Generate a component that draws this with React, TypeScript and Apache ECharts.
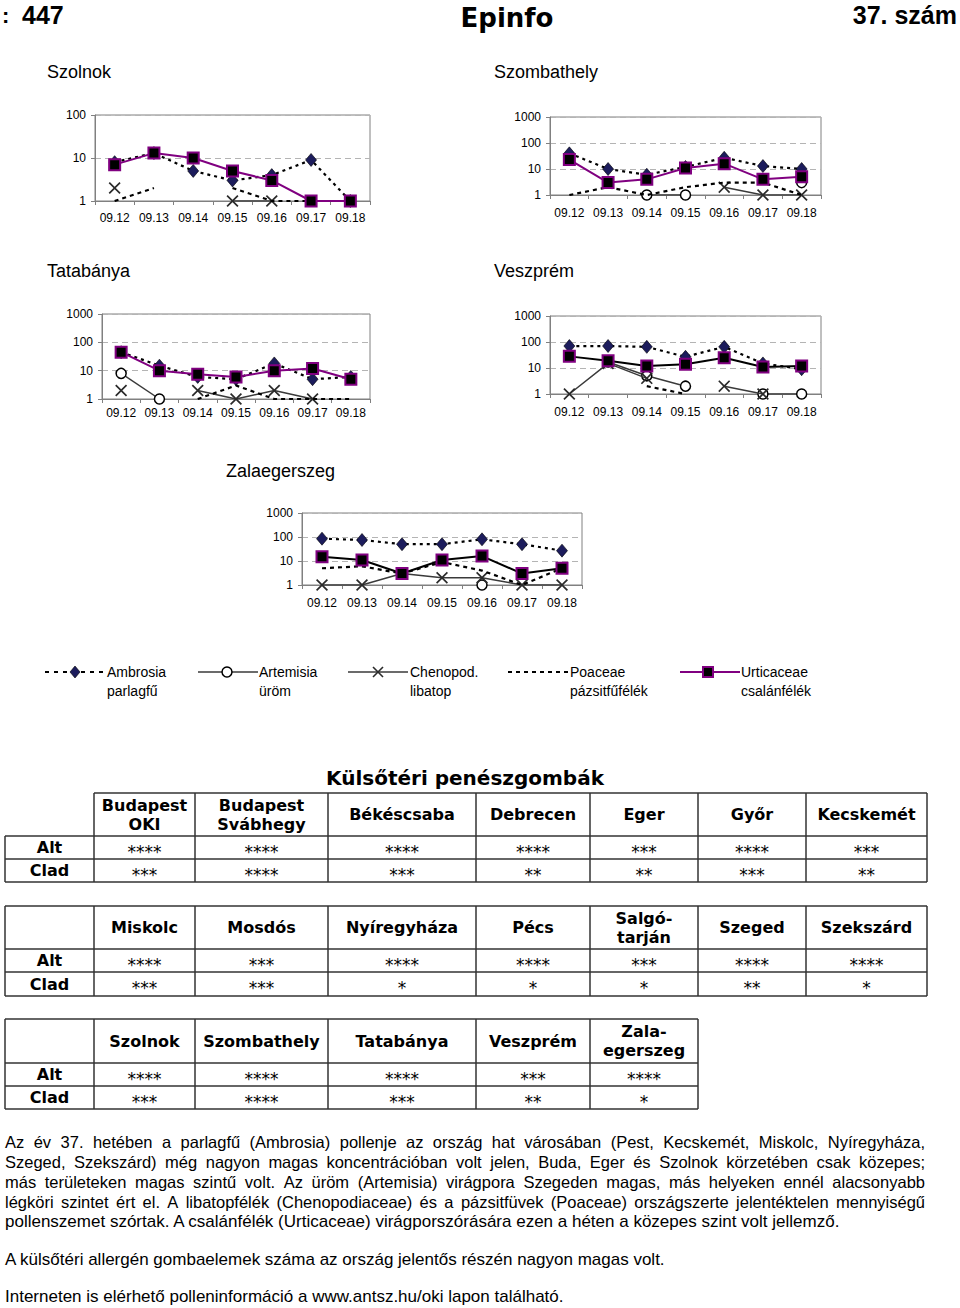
import React, { useEffect, useRef } from "react";
import * as echarts from "echarts";

// ---------- data ----------
const dates = ["09.12", "09.13", "09.14", "09.15", "09.16", "09.17", "09.18"];
const cities = ["Szolnok", "Szombathely", "Tatabánya", "Veszprém", "Zalaegerszeg"];
const yMaxByCity = [100, 1000, 1000, 1000, 1000];

// one row per city, in the order of `cities`
const ambrosia = [
  [8, 13, 5, 3, 4, 9, 1],
  [40, 10, 6, 12, 27, 13, 10],
  [45, 15, 6, 5, 18, 5, 6],
  [70, 70, 65, 27, 65, 15, 9],
  [85, 75, 50, 50, 80, 50, 27],
];
const artemisia = [
  [null, null, null, null, null, null, null],
  [null, null, 1, 1, null, null, 3],
  [8, 1, null, null, null, null, null],
  [null, 17, 5, 2, null, 1, 1],
  [null, null, null, null, 1, null, null],
];
const chenopod = [
  [2, null, null, 1, 1, null, null],
  [null, null, null, null, 2, 1, 1],
  [2, null, 2, 1, 2, 1, null],
  [1, 15, 4, null, 2, 1, null],
  [1, 1, 3, 2, 2, 1, 1],
];
const poaceae = [
  [1, 2, null, 2, 1, 1, 1],
  [1, 2, 1, 2, 3, 3, 1],
  [null, null, 1, 3, 1, 1, 1],
  [null, null, 2, 1, null, null, null],
  [5, 6, 3, 9, 4, 1, 5],
];
const urticaceae = [
  [7, 13, 10, 5, 3, 1, 1],
  [23, 3, 4, 11, 16, 4, 5],
  [45, 10, 7.5, 6, 10, 12, 5],
  [28, 19, 12, 14, 25, 11, 12],
  [15, 11, 3, 11, 16, 3, 5],
];

const legendNames = ["Ambrosia", "Artemisia", "Chenopod.", "Poaceae", "Urticaceae"];
const legendHun = ["parlagfű", "üröm", "libatop", "pázsitfűfélék", "csalánfélék"];

const tableTitle = "Külsőtéri penészgombák";
const table1Cities = ["Budapest\nOKI", "Budapest\nSvábhegy", "Békéscsaba", "Debrecen", "Eger", "Győr", "Kecskemét"];
const table1Alt = ["****", "****", "****", "****", "***", "****", "***"];
const table1Clad = ["***", "****", "***", "**", "**", "***", "**"];
const table2Cities = ["Miskolc", "Mosdós", "Nyíregyháza", "Pécs", "Salgó-\ntarján", "Szeged", "Szekszárd"];
const table2Alt = ["****", "***", "****", "****", "***", "****", "****"];
const table2Clad = ["***", "***", "*", "*", "*", "**", "*"];
const table3Cities = ["Szolnok", "Szombathely", "Tatabánya", "Veszprém", "Zala-\negerszeg"];
const table3Alt = ["****", "****", "****", "***", "****"];
const table3Clad = ["***", "****", "***", "**", "*"];
const rowLabels = ["Alt", "Clad"];

const paragraph = [
  "Az év 37. hetében a parlagfű (Ambrosia) pollenje az ország hat városában (Pest, Kecskemét, Miskolc, Nyíregyháza,",
  "Szeged, Szekszárd) még nagyon magas koncentrációban volt jelen, Buda, Eger és Szolnok körzetében csak közepes;",
  "más területeken magas szintű volt. Az üröm (Artemisia) virágpora Szegeden magas, más helyeken ennél alacsonyabb",
  "légköri szintet ért el. A libatopfélék (Chenopodiaceae) és a pázsitfüvek (Poaceae) országszerte jelentéktelen mennyiségű",
  "pollenszemet szórtak. A csalánfélék (Urticaceae) virágporszórására ezen a héten a közepes szint volt jellemző.",
];
const note1 = "A külsőtéri allergén gombaelemek száma az ország jelentős részén nagyon magas volt.";
const note2 = "Interneten is elérhető polleninformáció a www.antsz.hu/oki lapon található.";

// ---------- layout ----------
const gridRects = [
  { left: 95, top: 115, width: 275, height: 86, tx: 47, ty: 72, xm: 11 },
  { left: 550, top: 117, width: 271, height: 78, tx: 494, ty: 72, xm: 12 },
  { left: 102, top: 314, width: 268, height: 85, tx: 47, ty: 271, xm: 8 },
  { left: 550, top: 316, width: 271, height: 78, tx: 494, ty: 271, xm: 12 },
  { left: 302, top: 513, width: 280, height: 72, tx: 226, ty: 471, xm: 12 },
];
const urtLineColor = ["#800080", "#800080", "#800080", "#000000", "#000000"];

const ARIAL = "'Liberation Sans', Arial, sans-serif";
const DEJAVU = "'DejaVu Sans', sans-serif";
const NARROW = "'Liberation Sans Narrow', 'Arial Narrow', 'Liberation Sans', sans-serif";
const XPATH = "path://M0,1 L1,0 L5,4 L9,0 L10,1 L6,5 L10,9 L9,10 L5,6 L1,10 L0,9 L4,5 Z";

const toSeries = (a: (number | null)[]) => a.map((v) => (v == null ? "-" : v));

function txt(x: number, y: number, text: string, font: string, align = "left", va = "middle", extra: any = {}) {
  return {
    type: "text",
    x,
    y,
    silent: true,
    style: { text, font, fill: "#000", align, verticalAlign: va, textAlign: align, textVerticalAlign: va, ...extra },
  };
}
function ln(x1: number, y1: number, x2: number, y2: number, stroke = "#333", lineWidth = 1.5, dash?: number[]) {
  return {
    type: "line",
    silent: true,
    shape: { x1, y1, x2, y2 },
    style: { stroke, lineWidth, lineDash: dash },
  };
}

const cols = [5, 94, 195, 328, 476, 590, 698, 806, 927];

function table(
  top: number,
  headBottom: number,
  rowSep: number,
  bottom: number,
  heads: string[],
  alt: string[],
  clad: string[],
  openCorner: boolean
) {
  const els: any[] = [];
  const n = heads.length;
  const right = cols[n + 1];
  els.push(ln(openCorner ? cols[1] : cols[0], top, right, top));
  els.push(ln(cols[0], headBottom, right, headBottom));
  els.push(ln(cols[0], rowSep, right, rowSep));
  els.push(ln(cols[0], bottom, right, bottom));
  for (let i = 0; i <= n + 1; i++) {
    const yStart = i === 0 && openCorner ? headBottom : top;
    els.push(ln(cols[i], yStart, cols[i], bottom));
  }
  const hc = (top + headBottom) / 2;
  const r1 = (headBottom + rowSep) / 2;
  const r2 = (rowSep + bottom) / 2;
  for (let i = 0; i < n; i++) {
    const cx = (cols[i + 1] + cols[i + 2]) / 2;
    els.push(txt(cx, hc, heads[i], "bold 16px " + DEJAVU, "center", "middle", { lineHeight: 19 }));
    els.push(txt(cx, r1 + 4, alt[i], "17px " + DEJAVU, "center"));
    els.push(txt(cx, r2 + 4, clad[i], "17px " + DEJAVU, "center"));
  }
  const lx = (cols[0] + cols[1]) / 2;
  els.push(txt(lx, r1, rowLabels[0], "bold 16px " + DEJAVU, "center"));
  els.push(txt(lx, r2, rowLabels[1], "bold 16px " + DEJAVU, "center"));
  return els;
}

function buildOption() {
  const grid: any[] = [];
  const xAxis: any[] = [];
  const yAxis: any[] = [];
  const series: any[] = [];
  const graphic: any[] = [];

  gridRects.forEach((g, i) => {
    grid.push({
      left: g.left,
      top: g.top,
      width: g.width,
      height: g.height,
      show: true,
      borderColor: "#808080",
      borderWidth: 1,
      containLabel: false,
    });
    xAxis.push({
      gridIndex: i,
      type: "category",
      data: dates,
      boundaryGap: true,
      axisLine: { show: true, lineStyle: { color: "#808080", width: 1 } },
      axisTick: { show: true, length: 4, lineStyle: { color: "#808080" } },
      axisLabel: { color: "#000", fontSize: 12, fontFamily: ARIAL, margin: g.xm, interval: 0 },
      splitLine: { show: false },
    });
    yAxis.push({
      gridIndex: i,
      type: "log",
      logBase: 10,
      min: 1,
      max: yMaxByCity[i],
      axisLine: { show: true, lineStyle: { color: "#808080", width: 1 } },
      axisTick: { show: true, length: 4, lineStyle: { color: "#808080" } },
      axisLabel: {
        color: "#000",
        fontSize: 12,
        fontFamily: ARIAL,
        margin: 9,
        formatter: (v: number) => String(Math.round(v)),
      },
      splitLine: { show: true, lineStyle: { color: "#b4b4b4", type: [6, 4], width: 1 } },
    });
    const common = {
      type: "line",
      xAxisIndex: i,
      yAxisIndex: i,
      showAllSymbol: true,
      connectNulls: false,
      silent: true,
      emphasis: { disabled: true },
    };
    series.push({
      ...common,
      name: legendNames[0],
      data: toSeries(ambrosia[i]),
      symbol: "diamond",
      symbolSize: [11, 13],
      lineStyle: { color: "#000", width: 2.2, type: [3, 4] },
      itemStyle: { color: "#1c1c5c", borderColor: "#000", borderWidth: 0.6 },
      z: 2,
    });
    series.push({
      ...common,
      name: legendNames[1],
      data: toSeries(artemisia[i]),
      symbol: "circle",
      symbolSize: 10,
      lineStyle: { color: "#3a3a3a", width: 1.5 },
      itemStyle: { color: "#ffffff", borderColor: "#000", borderWidth: 1.5 },
      z: 3,
    });
    series.push({
      ...common,
      name: legendNames[2],
      data: toSeries(chenopod[i]),
      symbol: XPATH,
      symbolSize: 12,
      lineStyle: { color: "#3a3a3a", width: 1.5 },
      itemStyle: { color: "#2a2a2a" },
      z: 4,
    });
    series.push({
      ...common,
      name: legendNames[3],
      data: toSeries(poaceae[i]),
      symbol: "none",
      lineStyle: { color: "#000", width: 2.2, type: [4, 4] },
      z: 5,
    });
    series.push({
      ...common,
      name: legendNames[4],
      data: toSeries(urticaceae[i]),
      symbol: "rect",
      symbolSize: 11,
      lineStyle: { color: urtLineColor[i], width: 2 },
      itemStyle: { color: "#000", borderColor: "#800080", borderWidth: 2 },
      z: 6,
    });
    graphic.push(txt(g.tx, g.ty, cities[i], "18px " + ARIAL, "left"));
  });

  // header
  graphic.push(txt(2, 15, ":", "bold 22px " + NARROW, "left"));
  graphic.push(txt(22, 15, "447", "bold 25px " + NARROW, "left"));
  graphic.push(txt(507, 18, "Epinfo", "bold 26px " + DEJAVU, "center"));
  graphic.push(txt(957, 15, "37. szám", "bold 25px " + NARROW, "right"));

  // legend
  const ly = 672;
  const lf = "14px " + ARIAL;
  graphic.push(ln(45, ly, 105, ly, "#000", 2, [4, 5]));
  graphic.push({
    type: "polygon",
    silent: true,
    shape: { points: [[75, ly - 6], [80, ly], [75, ly + 6], [70, ly]] },
    style: { fill: "#1c1c5c", stroke: "#000", lineWidth: 0.6 },
  });
  graphic.push(ln(198, ly, 258, ly, "#3a3a3a", 1.5));
  graphic.push({ type: "circle", silent: true, shape: { cx: 227, cy: ly, r: 5 }, style: { fill: "#fff", stroke: "#000", lineWidth: 1.5 } });
  graphic.push(ln(348, ly, 408, ly, "#3a3a3a", 1.5));
  graphic.push(ln(373, ly - 5, 383, ly + 5, "#2a2a2a", 1.6));
  graphic.push(ln(373, ly + 5, 383, ly - 5, "#2a2a2a", 1.6));
  graphic.push(ln(508, ly, 568, ly, "#000", 2, [4, 4]));
  graphic.push(ln(680, ly, 740, ly, "#800080", 2));
  graphic.push({ type: "rect", silent: true, shape: { x: 703, y: ly - 5, width: 10, height: 10 }, style: { fill: "#000", stroke: "#800080", lineWidth: 2 } });
  const lxs = [107, 259, 410, 570, 741];
  lxs.forEach((x, i) => {
    graphic.push(txt(x, ly, legendNames[i], lf, "left"));
    graphic.push(txt(x, ly + 19, legendHun[i], lf, "left"));
  });

  // tables
  graphic.push(txt(465, 778, tableTitle, "bold 20px " + DEJAVU, "center"));
  graphic.push(...table(793, 836, 859, 882, table1Cities, table1Alt, table1Clad, true));
  graphic.push(...table(906, 949, 972, 996, table2Cities, table2Alt, table2Clad, false));
  graphic.push(...table(1019, 1063, 1086, 1109, table3Cities, table3Alt, table3Clad, false));

  // paragraph (justified)
  const pfJ = "16.5px " + ARIAL;
  const pf = "17px " + ARIAL;
  const canvas = document.createElement("canvas");
  const ctx = canvas.getContext("2d")!;
  ctx.font = pfJ;
  const pys = [1142, 1162, 1182, 1202, 1221];
  paragraph.forEach((line, i) => {
    if (i === paragraph.length - 1) {
      graphic.push(txt(5, pys[i], line, pf, "left"));
      return;
    }
    const words = line.split(" ");
    const widths = words.map((w) => ctx.measureText(w).width);
    const sum = widths.reduce((a, b) => a + b, 0);
    const gap = (925 - 5 - sum) / (words.length - 1);
    let x = 5;
    words.forEach((w, k) => {
      graphic.push(txt(x, pys[i], w, pfJ, "left"));
      x += widths[k] + gap;
    });
  });
  graphic.push(txt(5, 1259, note1, pf, "left"));
  graphic.push(txt(5, 1296, note2, pf, "left"));

  return {
    animation: false,
    backgroundColor: "#ffffff",
    grid,
    xAxis,
    yAxis,
    series,
    graphic: { elements: graphic },
  };
}

export default function App() {
  const ref = useRef<HTMLDivElement>(null);
  useEffect(() => {
    if (!ref.current) return;
    const chart = echarts.init(ref.current, undefined, { renderer: "svg" });
    chart.setOption(buildOption() as any);
    return () => chart.dispose();
  }, []);
  return (
    <div
      ref={ref}
      style={{ position: "absolute", left: 0, top: 0, width: 960, height: 1308, background: "#fff" }}
    />
  );
}
